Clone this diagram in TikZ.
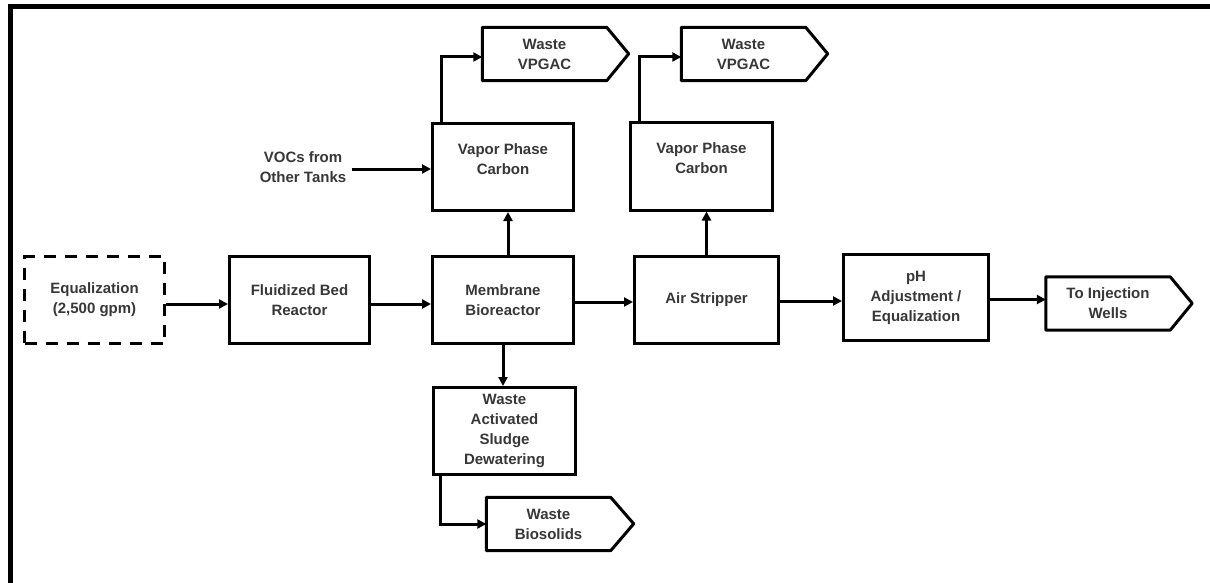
\documentclass[tikz,border=0pt]{standalone}
\usepackage{fontspec}
\setmainfont{Liberation Sans}
\usetikzlibrary{arrows.meta}
\definecolor{txt}{RGB}{55,55,55}
\begin{document}
\begin{tikzpicture}[x=1pt,y=-1pt,
  every node/.style={font=\fontsize{15}{20}\selectfont\bfseries, text=txt, align=center},
  box/.style={draw=black, line width=3pt, minimum width=#1, minimum height=87pt, inner sep=0pt},
  box/.default=141pt,
  tag/.style={minimum width=124pt, minimum height=53pt, inner sep=0pt},
  flow/.style={line width=3pt, -{Triangle[length=9pt,width=9pt]}},
  conn/.style={line width=3pt},
  outline/.style={draw=black, line width=3pt, line join=round}]
\useasboundingbox (0,0) rectangle (1210,583);
% frame
\fill[black] (8,4) rectangle (1210,9);
\fill[black] (8,4) rectangle (13,583);

% main row
\node[box=140pt, dash pattern=on 12pt off 9pt] (eq) at (94.5,300) {Equalization\\(2,500 gpm)};
\node[box=140pt] (fbr) at (299.5,300) {Fluidized Bed\\Reactor};
\node[box] (mbr) at (503,300) {Membrane\\Bioreactor};
\node[box=144pt] (air) at (706.5,300) {Air Stripper};
\node[box=145pt, minimum height=86pt] (ph) at (916,297.5) {pH\\Adjustment /\\Equalization};
\node[tag] (inj) at (1108,303.5) {To Injection\\Wells};
\draw[outline] (inj.north west) -- (inj.north east) -- ++(22,26.5) -- (inj.south east) -- (inj.south west) -- cycle;

% upper
\node[box] (vap1) at (503,167) {Vapor Phase\\Carbon\\[-4pt]};
\node[box=142pt] (vap2) at (701.5,166.5) {Vapor Phase\\Carbon\\[-4pt]};
\node[tag] (wv1) at (544.5,54) {Waste\\VPGAC};
\draw[outline] (wv1.north west) -- (wv1.north east) -- ++(22,26.5) -- (wv1.south east) -- (wv1.south west) -- cycle;
\node[tag] (wv2) at (743.5,54) {Waste\\VPGAC};
\draw[outline] (wv2.north west) -- (wv2.north east) -- ++(22,26.5) -- (wv2.south east) -- (wv2.south west) -- cycle;
\node[inner sep=6pt] (vocs) at (303,167) {VOCs from\\Other Tanks};

% lower
\node[box=142pt] (was) at (504.5,431) {Waste\\Activated\\Sludge\\Dewatering};
\node[tag] (bio) at (548.5,524) {Waste\\Biosolids};
\draw[outline] (bio.north west) -- (bio.north east) -- ++(23,26.5) -- (bio.south east) -- (bio.south west) -- cycle;

% connectors
\draw[flow] ([yshift=-4pt]eq.east) -- ([yshift=-4pt]fbr.west);
\draw[flow] ([yshift=-4pt]fbr.east) -- ([yshift=-4pt]mbr.west);
\draw[flow] ([yshift=-2pt]mbr.east) -- ([yshift=-2pt]mbr.east -| air.west);
\draw[flow] ([yshift=-1pt]air.east) -- ([yshift=-1pt]air.east -| ph.west);
\draw[flow] ([yshift=-2pt]ph.east) -- ([yshift=-2pt]ph.east -| inj.west);
\draw[flow] ([xshift=5pt]mbr.north) -- ([xshift=5pt]mbr.north |- vap1.south);
\draw[flow] (air.north) -- (air.north |- vap2.south);
\draw[flow] (mbr.south) -- (mbr.south |- was.north);
\draw[flow] ([xshift=10pt]vap1.north west) |- ([yshift=-3pt]wv1.west);
\draw[flow] ([xshift=10pt]vap2.north west) |- ([yshift=-3pt]wv2.west);
\draw[flow] ([xshift=8pt]was.south west) |- (bio.west);
\draw[flow] ([yshift=-2pt]vocs.east) -- ([yshift=-2pt]vocs.east -| vap1.west);
\end{tikzpicture}
\end{document}
